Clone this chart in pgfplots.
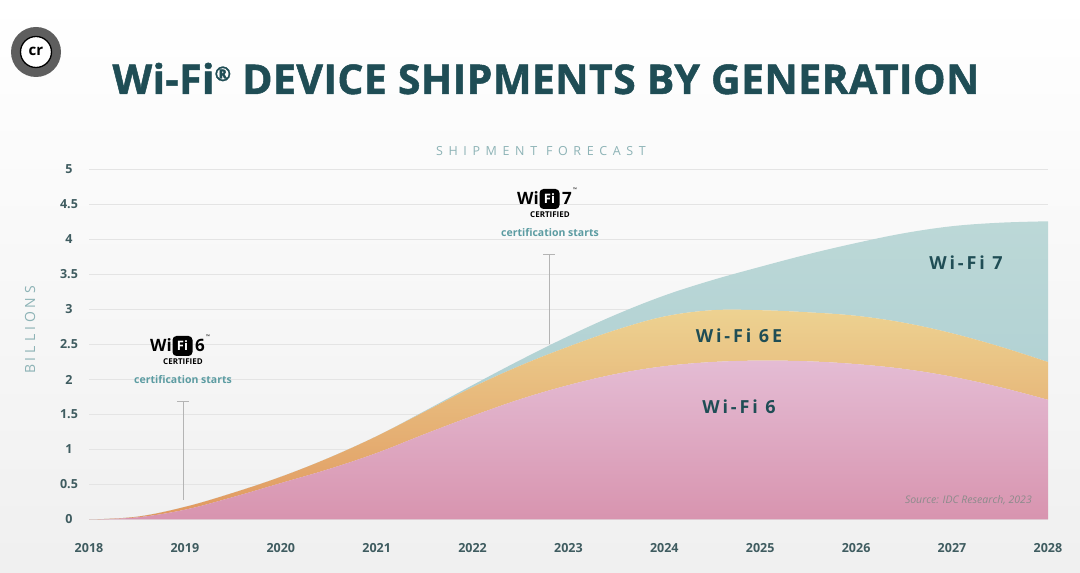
\documentclass[border=0pt]{standalone}
\usepackage{fontspec}
\setmainfont{Open Sans}
\usepackage{pgfplots}
\usepackage{pgfplotstable}
\pgfplotsset{compat=1.18}

\definecolor{titleteal}{HTML}{1F4D55}
\definecolor{ticklab}{HTML}{3F5C60}
\definecolor{lightteal}{HTML}{8DB3B6}
\definecolor{certteal}{HTML}{5C9CA2}
\definecolor{gridgray}{HTML}{E4E4E4}
\definecolor{pinkTop}{HTML}{E4BCD4}
\definecolor{pinkBot}{HTML}{D894AF}
\definecolor{orTop}{HTML}{EDD291}
\definecolor{orBot}{HTML}{E0985F}
\definecolor{blTop}{HTML}{BCD8D7}
\definecolor{blBot}{HTML}{A8CCD1}
\definecolor{logogray}{HTML}{5E5E5E}
\definecolor{srcgray}{HTML}{8B8B8B}
\definecolor{linegray}{HTML}{B4B4B4}

% Stacked layer values (billions of devices)
\pgfplotstableread{
year   wifi6  wifi6e wifi7
2018   0.00   0.00   0.00
2018.5 0.03   0.01   0.00
2019   0.14   0.04   0.00
2019.5 0.32   0.06   0.00
2020   0.52   0.09   0.00
2020.5 0.72   0.16   0.00
2021   0.95   0.24   0.00
2021.5 1.22   0.32   0.01
2022   1.48   0.41   0.03
2022.5 1.72   0.48   0.08
2023   1.92   0.55   0.15
2023.5 2.08   0.63   0.22
2024   2.19   0.71   0.30
2024.5 2.25   0.74   0.43
2025   2.27   0.72   0.62
2025.5 2.26   0.70   0.83
2026   2.22   0.69   1.04
2026.5 2.15   0.66   1.28
2027   2.04   0.62   1.53
2027.5 1.89   0.58   1.77
2028   1.71   0.54   2.01
}\datatable

\newcommand{\wifilogo}[3]{%
  \node[anchor=base east, inner sep=0, font=\fontsize{17}{17}\selectfont\bfseries] at (#1-11,#2-6) {Wi};
  \node[fill=black, rounded corners=4pt, minimum size=20pt, inner sep=0, text=white,
        font=\fontsize{13}{13}\selectfont\bfseries] at (#1-0.5,#2) {Fi};
  \node[anchor=base west, inner sep=0, font=\fontsize{17}{17}\selectfont\bfseries] at (#1+12,#2-6) {#3};
  \node[inner sep=0, font=\fontsize{5}{5}\selectfont] at (#1+25,#2+9) {™};
  \node[inner sep=0, font=\fontsize{8}{8}\selectfont\bfseries] at (#1,#2-16) {CERTIFIED};
  \node[inner sep=0, text=certteal, font=\fontsize{10.5}{10.5}\selectfont\bfseries] at (#1,#2-34) {certification starts};
}

\begin{document}
\begin{tikzpicture}
\begin{scope}[x=1pt,y=1pt]
% background
\path[top color=white, bottom color=black!6] (0,0) rectangle (1080,573);
% logo
\fill[logogray] (36,521) circle (25);
\draw[black, line width=1.3pt, fill=white] (36,521) circle (15.5);
\node[font=\fontsize{15}{15}\selectfont\bfseries] at (36,522) {cr};
% title
\node[anchor=base, inner sep=0, text=titleteal,
      font=\fontsize{41}{41}\selectfont\bfseries\addfontfeature{LetterSpace=1,FakeBold=1.2}] at (546,479)
  {Wi-Fi\raisebox{13pt}{\fontsize{20}{20}\selectfont ®} DEVICE SHIPMENTS BY GENERATION};
% subtitle
\node[text=lightteal, inner sep=0, font=\fontsize{12.5}{12.5}\selectfont\addfontfeature{LetterSpace=45}] at (541,422) {SHIPMENT FORECAST};
% y label
\node[text=lightteal, inner sep=0, rotate=90, font=\fontsize{14}{14}\selectfont\addfontfeature{LetterSpace=28}] at (30,243) {BILLIONS};
\end{scope}

\begin{axis}[
  at={(89pt,53.5pt)}, anchor=south west,
  scale only axis, width=959pt, height=350pt,
  xmin=2018, xmax=2028, ymin=0, ymax=5,
  axis line style={draw=none},
  major tick length=0pt,
  xtick={2018,2019,...,2028},
  ytick={0,0.5,...,5},
  ymajorgrids, grid style={gridgray, line width=1pt},
  stack plots=y,
  clip=false,
  /pgf/number format/assume math mode=true,
  /pgf/number format/1000 sep={},
  yticklabel style={anchor=center, xshift=-20pt, text=ticklab, font=\fontsize{12.5}{12.5}\selectfont\bfseries},
  xticklabel style={anchor=center, yshift=-28.5pt, text=ticklab, font=\fontsize{12.5}{12.5}\selectfont\bfseries},
]
\addplot[draw=none, top color=pinkTop, bottom color=pinkBot, smooth, tension=0.6] table[x=year, y=wifi6] {\datatable} \closedcycle;
\addplot[draw=none, top color=orTop, bottom color=orBot, smooth, tension=0.6] table[x=year, y=wifi6e] {\datatable} \closedcycle;
\addplot[draw=none, top color=blTop, bottom color=blBot, smooth, tension=0.6] table[x=year, y=wifi7] {\datatable} \closedcycle;
\end{axis}

\begin{scope}[x=1pt,y=1pt]
% annotation lines
\draw[linegray, line width=1pt] (183,73) -- (183,171.5);
\draw[linegray, line width=1pt] (177,171.5) -- (189,171.5);
\draw[linegray, line width=1pt] (549,229) -- (549,318);
\draw[linegray, line width=1pt] (543,318) -- (555,318);
% certification logos
\wifilogo{183}{227}{6}
\wifilogo{550}{374}{7}
% series labels
\node[text=titleteal, inner sep=0, font=\fontsize{18}{18}\selectfont\bfseries\addfontfeature{LetterSpace=16}] at (966,310) {Wi-Fi 7};
\node[text=titleteal, inner sep=0, font=\fontsize{18}{18}\selectfont\bfseries\addfontfeature{LetterSpace=16}] at (739,237) {Wi-Fi 6E};
\node[text=titleteal, inner sep=0, font=\fontsize{18}{18}\selectfont\bfseries\addfontfeature{LetterSpace=16}] at (739,166) {Wi-Fi 6};
% source
\node[anchor=east, inner sep=0, text=srcgray, font=\fontsize{10.5}{10.5}\selectfont\itshape] at (1032,73) {Source: IDC Research, 2023};
\end{scope}
\end{tikzpicture}
\end{document}
